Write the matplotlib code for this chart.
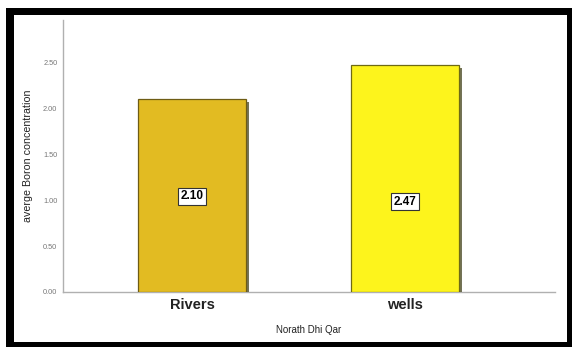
import numpy as np
import matplotlib
matplotlib.use('Agg')
import matplotlib.pyplot as plt
import matplotlib.patheffects as pe
from matplotlib.patches import Rectangle

plt.rcParams['font.family'] = ['Liberation Sans', 'DejaVu Sans']

# Data
categories = ['Rivers', 'wells']
values = [2.10, 2.47]
value_labels = ['2.10', '2.47']
label_y = [1.04, 0.98]
bar_colors = ['#e2bb22', '#fdf41c']
edge_colors = ['#6e5c14', '#6e6a14']
yticks = [0.0, 0.5, 1.0, 1.5, 2.0, 2.5]

W, H = 572, 347
fig = plt.figure(figsize=(W / 100, H / 100), dpi=100)

# black frame round the chart (drawn behind the axes)
fig.patches.append(Rectangle((6 / W, 0), (W - 6) / W, (H - 8) / H,
                             transform=fig.transFigure, facecolor='black',
                             edgecolor='none', zorder=-2))
fig.patches.append(Rectangle((14 / W, 5 / H), (567 - 14) / W, (342 - 15) / H,
                             transform=fig.transFigure, facecolor='white',
                             edgecolor='none', zorder=-1))

ax = fig.add_axes([63 / W, (H - 292) / H, (555 - 63) / W, (292 - 20) / H])
ax.patch.set_alpha(0)

x = np.arange(len(categories))
bars = ax.bar(x, values, width=0.507, color=bar_colors, edgecolor=edge_colors,
              linewidth=0.9, zorder=3)
for b in bars:
    b.set_path_effects([pe.SimplePatchShadow(offset=(2.2, -2.2), shadow_rgbFace='#5a5a3a', alpha=0.85),
                        pe.Normal()])

for xi, ly, lab in zip(x, label_y, value_labels):
    ax.text(xi, ly, lab, ha='center', va='center', fontsize=8.5, fontweight='bold',
            zorder=5, bbox=dict(boxstyle='square,pad=0.2', facecolor='white',
                                edgecolor='#333333', linewidth=0.8))

ax.set_xlim(-0.606, 1.704)
ax.set_ylim(0, 2.957)
ax.set_yticks(yticks)
ax.set_yticklabels(['%.2f' % t for t in yticks], fontsize=5.3, color='#777777')
ax.set_xticks(x)
ax.set_xticklabels(categories, fontsize=10.5, fontweight='bold', color='#222222')
ax.tick_params(axis='y', length=0, pad=4)
ax.tick_params(axis='x', length=0, pad=4)

for s in ['top', 'right']:
    ax.spines[s].set_visible(False)
for s in ['left', 'bottom']:
    ax.spines[s].set_color('#b0b0b0')
    ax.spines[s].set_linewidth(1.0)

ax.set_xlabel('Norath Dhi Qar', fontsize=7, color='#222222', labelpad=10)
ax.set_ylabel('averge Boron concentration', fontsize=7.7, color='#222222', labelpad=7)

fig.savefig('out.png', dpi=100)
